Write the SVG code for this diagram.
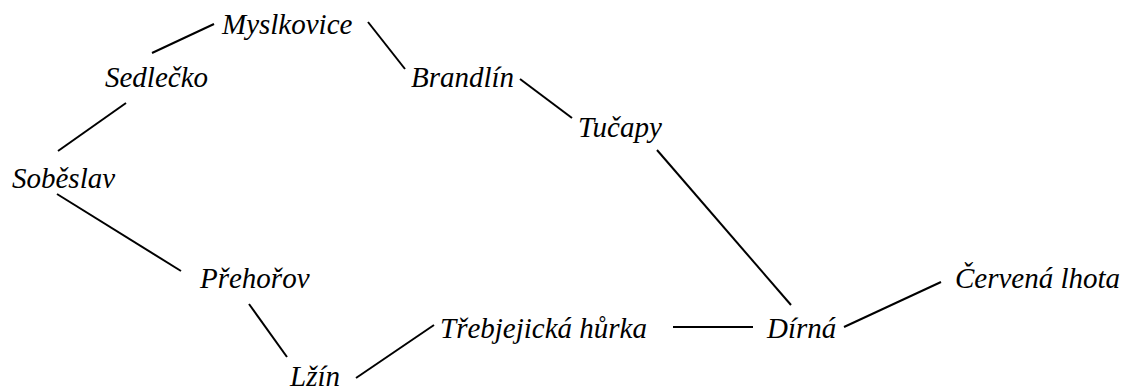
<svg xmlns="http://www.w3.org/2000/svg" width="1124" height="389" viewBox="0 0 1124 389">
<style>
.n{font-family:"Liberation Serif","Times New Roman",serif;font-style:italic;font-size:29px;fill:#000}
.e line{stroke:#000;stroke-width:2;stroke-linecap:butt}
</style>
<rect width="1124" height="389" fill="#fff"/>
<g class="e" id="connectors">
<line x1="152" y1="53" x2="214" y2="24"/>
<line x1="126" y1="103" x2="58" y2="151"/>
<line x1="368" y1="22" x2="405" y2="69"/>
<line x1="520" y1="79" x2="572" y2="118"/>
<line x1="657" y1="150" x2="791" y2="305"/>
<line x1="57" y1="194" x2="181" y2="271"/>
<line x1="249" y1="304" x2="287" y2="357"/>
<line x1="356" y1="378" x2="434" y2="325"/>
<line x1="673" y1="327" x2="753" y2="327"/>
<line x1="844" y1="327" x2="941" y2="282"/>
</g>
<g id="myslkovice"><text class="n" x="222" y="34">Myslkovice</text></g>
<g id="sedlecko"><text class="n" x="105" y="87">Sedlečko</text></g>
<g id="sobeslav"><text class="n" x="12" y="188">Soběslav</text></g>
<g id="brandlin"><text class="n" x="411" y="87">Brandlín</text></g>
<g id="tucapy"><text class="n" x="578" y="137">Tučapy</text></g>
<g id="prehorov"><text class="n" x="200" y="288">Přehořov</text></g>
<g id="lzin"><text class="n" x="290" y="386">Lžín</text></g>
<g id="trebjejicka"><text class="n" x="440" y="338">Třebjejická hůrka</text></g>
<g id="dirna"><text class="n" x="767" y="338">Dírná</text></g>
<g id="cervena"><text class="n" x="955" y="288">Červená lhota</text></g>
</svg>
